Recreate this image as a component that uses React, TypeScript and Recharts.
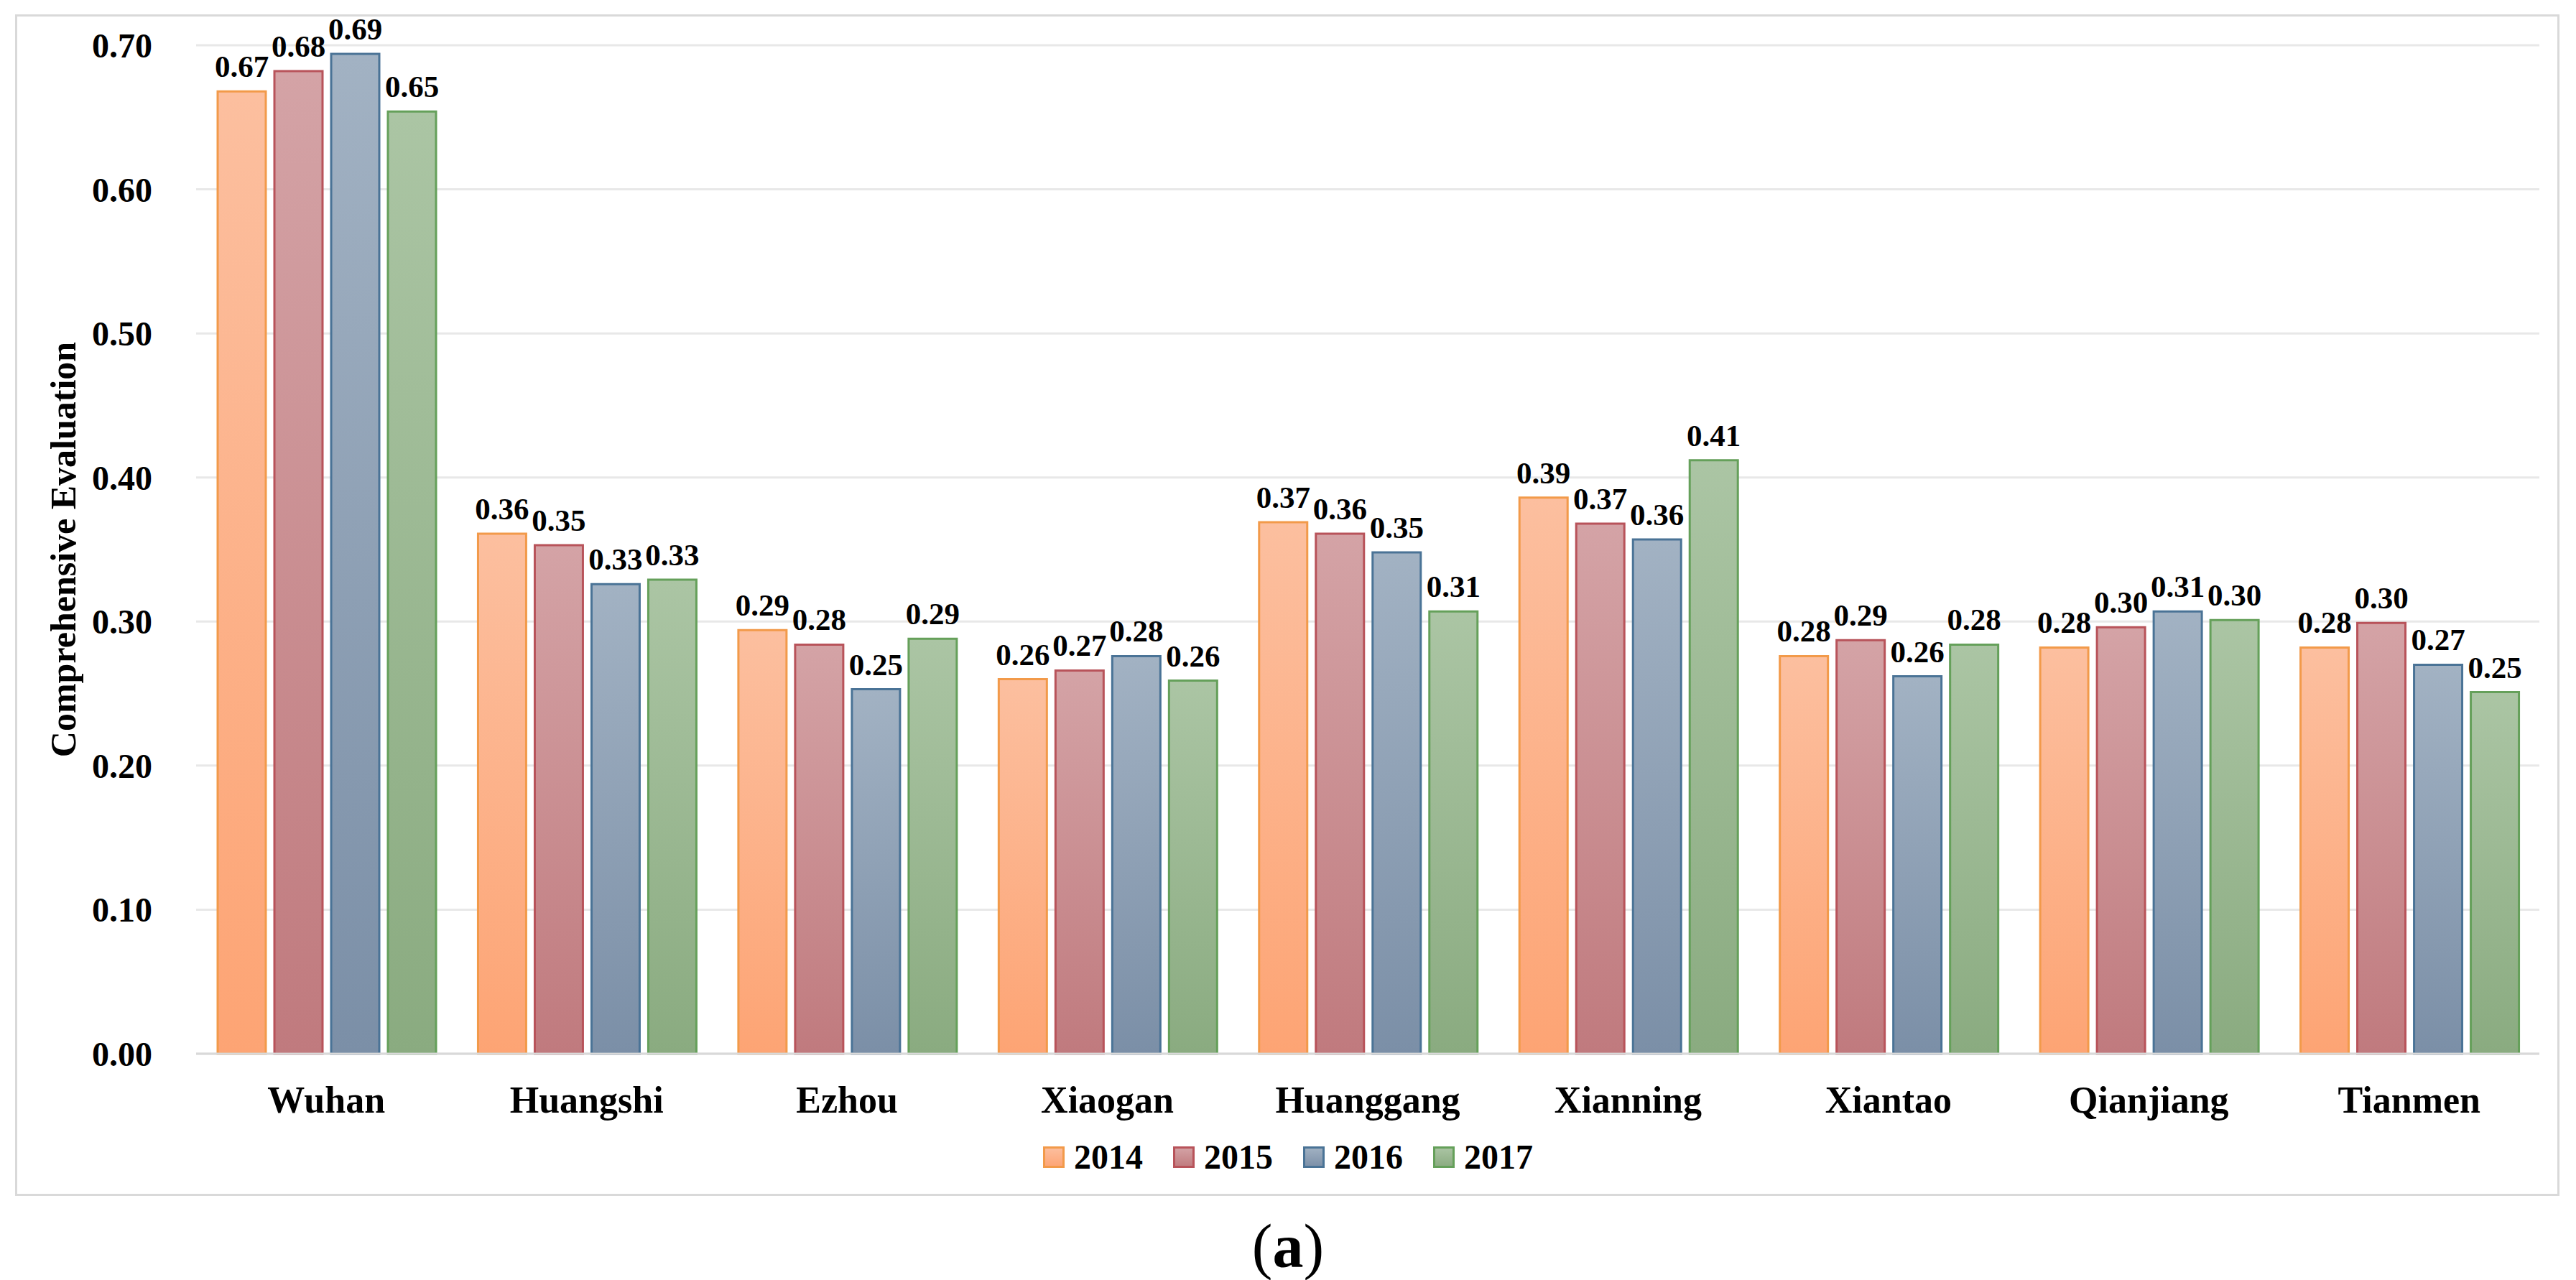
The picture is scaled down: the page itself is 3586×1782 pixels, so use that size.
import React from 'react';
import { BarChart, Bar, XAxis, YAxis, CartesianGrid, Legend, LabelList } from 'recharts';

// values
const cities = ['Wuhan', 'Huangshi', 'Ezhou', 'Xiaogan', 'Huanggang', 'Xianning', 'Xiantao', 'Qianjiang', 'Tianmen'];
const years = ['2014', '2015', '2016', '2017'];
const v2014 = [0.668, 0.361, 0.294, 0.26, 0.369, 0.386, 0.276, 0.282, 0.282];
const v2015 = [0.682, 0.353, 0.284, 0.266, 0.361, 0.368, 0.287, 0.296, 0.299];
const v2016 = [0.694, 0.326, 0.253, 0.276, 0.348, 0.357, 0.262, 0.307, 0.27];
const v2017 = [0.654, 0.329, 0.288, 0.259, 0.307, 0.412, 0.284, 0.301, 0.251];
const yTicks = [0, 0.1, 0.2, 0.3, 0.4, 0.5, 0.6, 0.7];

const seriesValues = [v2014, v2015, v2016, v2017];
const gradTop = ['#fcbf9f', '#d4a3a6', '#a2b2c3', '#abc5a4'];
const gradBottom = ['#fda474', '#c07a7e', '#7b8fa7', '#8aab80'];
const strokes = ['#f29a4a', '#b8535a', '#4a7396', '#65a05a'];

const data = cities.map((city, i) => {
  const row: any = { city };
  years.forEach((y, k) => {
    row['y' + y] = seriesValues[k][i];
  });
  return row;
});

const FONT = "'Liberation Serif', 'Times New Roman', serif";

function YTitle(props: any) {
  const vb = props.viewBox || { x: 0, y: 63, width: 273, height: 1404 };
  const cx = 88;
  const cy = vb.y + vb.height / 2;
  return (
    <text
      x={cx}
      y={cy}
      transform={`rotate(-90 ${cx} ${cy})`}
      textAnchor="middle"
      dominantBaseline="central"
      fontFamily={FONT}
      fontWeight="bold"
      fontSize={50}
      fill="#000"
    >
      Comprehensive Evaluation
    </text>
  );
}

function LegendContent() {
  return (
    <div
      style={{
        display: 'flex',
        justifyContent: 'center',
        alignItems: 'center',
        gap: 42,
        height: 52,
        fontFamily: FONT,
        fontWeight: 'bold',
        fontSize: 48,
        lineHeight: '52px',
        color: '#000',
      }}
    >
      {years.map((y, k) => (
        <div key={y} style={{ display: 'flex', alignItems: 'center', gap: 13 }}>
          <svg width={30} height={30}>
            <rect x={1.5} y={1.5} width={27} height={27} fill={`url(#g${y})`} stroke={strokes[k]} strokeWidth={3} />
          </svg>
          <span>{y}</span>
        </div>
      ))}
    </div>
  );
}

export default function App() {
  return (
    <div style={{ position: 'absolute', left: 0, top: 0, width: 3586, height: 1782, background: '#fff' }}>
      <div
        style={{
          position: 'absolute',
          left: 21,
          top: 20,
          width: 3542,
          height: 1645,
          border: '3px solid #d9d9d9',
          boxSizing: 'border-box',
        }}
      />
      <div style={{ position: 'absolute', left: 0, top: 0 }}>
        <BarChart
          width={3586}
          height={1782}
          data={data}
          margin={{ top: 63, right: 51, bottom: 215, left: 0 }}
          barCategoryGap={30}
          barGap={12}
        >
          <defs>
            {years.map((y, k) => (
              <linearGradient key={y} id={`g${y}`} x1="0" y1="0" x2="0" y2="1">
                <stop offset="0%" stopColor={gradTop[k]} />
                <stop offset="100%" stopColor={gradBottom[k]} />
              </linearGradient>
            ))}
          </defs>
          <CartesianGrid vertical={false} stroke="#e8e8e8" strokeWidth={3} />
          <XAxis
            dataKey="city"
            height={100}
            tickLine={false}
            tickSize={0}
            tickMargin={45}
            axisLine={{ stroke: '#d9d9d9', strokeWidth: 3 }}
            tick={{ fontFamily: FONT, fontWeight: 'bold', fontSize: 52, fill: '#000' }}
            interval={0}
          />
          <YAxis
            width={273}
            domain={[0, 0.7]}
            ticks={yTicks}
            tickFormatter={(v: number) => v.toFixed(2)}
            axisLine={false}
            tickLine={false}
            tickSize={0}
            tickMargin={61}
            tick={{ fontFamily: FONT, fontWeight: 'bold', fontSize: 48, fill: '#000' }}
            label={{ content: (p: any) => <YTitle {...p} /> }}
          />
          <Legend
            verticalAlign="middle"
            align="center"
            layout="horizontal"
            content={() => <LegendContent />}
            wrapperStyle={{ position: 'absolute', top: 1585, left: 0, width: 3586, height: 52 }}
          />
          {years.map((y, k) => (
            <Bar
              key={y}
              dataKey={'y' + y}
              name={y}
              fill={`url(#g${y})`}
              stroke={strokes[k]}
              strokeWidth={3}
              isAnimationActive={false}
            >
              <LabelList
                dataKey={'y' + y}
                position="top"
                offset={20}
                formatter={(v: any) => Number(v).toFixed(2)}
                fill="#000"
                style={{ fontFamily: FONT, fontWeight: 'bold', fontSize: 43, fill: '#000' }}
              />
            </Bar>
          ))}
        </BarChart>
      </div>
      <div
        style={{
          position: 'absolute',
          left: 0,
          top: 1686,
          width: 3586,
          textAlign: 'center',
          fontFamily: FONT,
          fontSize: 86,
          lineHeight: '98px',
          color: '#000',
        }}
      >
        (<b>a</b>)
      </div>
    </div>
  );
}
